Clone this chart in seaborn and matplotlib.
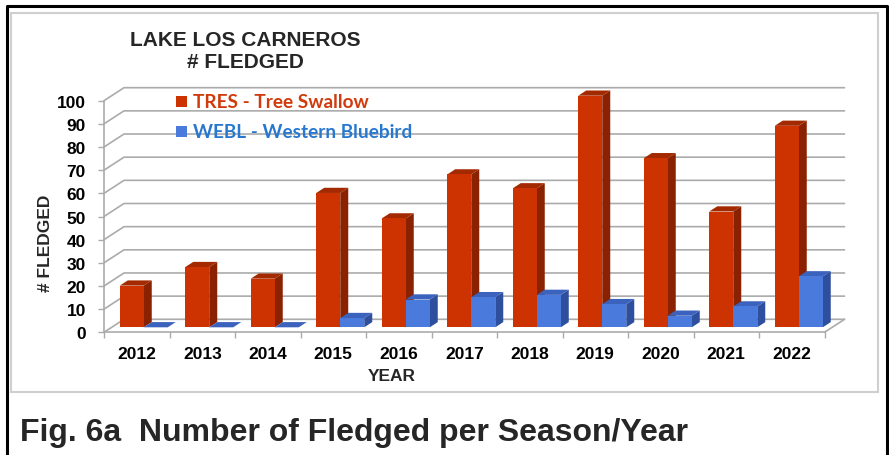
import matplotlib
matplotlib.use("Agg")
import matplotlib.pyplot as plt
from matplotlib.patches import Polygon, Rectangle
from matplotlib.lines import Line2D
import seaborn as sns
import pandas as pd

# ---------------- data ----------------
years = ["2012", "2013", "2014", "2015", "2016", "2017", "2018", "2019", "2020", "2021", "2022"]
tres = [18, 26, 21, 58, 47, 66, 60, 100, 73, 50, 87]
webl = [0, 0, 0, 4, 12, 13, 14, 10, 5, 9, 22]
series_names = ["TRES - Tree Swallow", "WEBL - Western Bluebird"]
y_ticks = list(range(0, 101, 10))

df = pd.DataFrame({
    "year": years * 2,
    "count": tres + webl,
    "species": [series_names[0]] * len(years) + [series_names[1]] * len(years),
})

W, H = 889, 456
sns.set_theme(style="white")
plt.rcParams["font.family"] = ["Liberation Sans", "DejaVu Sans"]

fig = plt.figure(figsize=(W / 100, H / 100), dpi=100)
fig.patch.set_facecolor("white")


def fx(x):
    return x / W


def fy(y):
    return 1 - y / H


# axes: x from 104px to 824.5px, y value 0 at 333.3px, 100 at 101.7px
ax_l, ax_r = 104, 824.5
ax_b, ax_t = 333.3, 101.7
ax = fig.add_axes([fx(ax_l), fy(ax_b), fx(ax_r) - fx(ax_l), fy(ax_t) - fy(ax_b)])
ax.set_facecolor("none")

front_col = {series_names[0]: "#CC3300", series_names[1]: "#4A7BDC"}
side_col = {series_names[0]: "#8A2100", series_names[1]: "#2E4F9E"}
top_col = {series_names[0]: "#A32A00", series_names[1]: "#3B62BC"}

sns.barplot(data=df, x="year", y="count", hue="species", hue_order=series_names,
            order=years, palette=front_col, width=0.733, dodge=True, saturation=1,
            linewidth=0, legend=False, ax=ax, errorbar=None)

ax.set_xlim(-0.5, 10.5)
ax.set_ylim(0, 100)

# pixel -> data unit conversion (linear axes)
p0 = ax.transData.transform((0, 0))
p1 = ax.transData.transform((1, 1))
ux = 1.0 / (p1[0] - p0[0])
uy = 1.0 / (p1[1] - p0[1])

ox, oy = 7 * ux, 5 * uy       # bars set back into the floor
dx, dy = 8 * ux, 5.2 * uy     # bar depth
gx, gy = 20 * ux, 13 * uy     # floor / wall depth

grid_c = "#ababab"
# back wall gridlines + left wall diagonals
for v in y_ticks:
    ax.add_line(Line2D([-0.5, -0.5 + gx, 10.5 + gx], [v, v + gy, v + gy],
                       color=grid_c, lw=1.2, zorder=1, clip_on=False))
# floor right edge
ax.add_line(Line2D([10.5, 10.5 + gx], [0, gy], color=grid_c, lw=1.2, zorder=1, clip_on=False))

# 3D bars built from seaborn's bar patches
patches = list(ax.patches)
n = len(years)
for i, p in enumerate(patches):
    s = series_names[0] if i < n else series_names[1]
    cat = i % n
    z = 3 + cat * 2 + (0 if i < n else 1)
    x0, w, h = p.get_x(), p.get_width(), p.get_height()
    xl = x0 + ox
    xr = x0 + w + ox
    p.set_x(xl)
    p.set_y(oy)
    p.set_zorder(z + 0.3)
    p.set_clip_on(False)
    side = Polygon([(xr, oy), (xr, h + oy), (xr + dx, h + oy + dy), (xr + dx, oy + dy)],
                   closed=True, facecolor=side_col[s], edgecolor="none", zorder=z, clip_on=False)
    top = Polygon([(xl, h + oy), (xr, h + oy), (xr + dx, h + oy + dy), (xl + dx, h + oy + dy)],
                  closed=True, facecolor=top_col[s], edgecolor="none", zorder=z + 0.1, clip_on=False)
    ax.add_patch(side)
    ax.add_patch(top)

# spines & ticks
for sp in ["top", "right"]:
    ax.spines[sp].set_visible(False)
for sp in ["left", "bottom"]:
    ax.spines[sp].set_color(grid_c)
    ax.spines[sp].set_linewidth(1.2)
    ax.spines[sp].set_zorder(1)

ax.set_yticks(y_ticks)
ax.set_yticklabels([str(v) for v in y_ticks], fontsize=12.5, fontweight="bold", color="black")
ax.tick_params(axis="y", direction="out", length=4, width=1, color=grid_c, pad=9, left=True)

ax.set_xticks(range(n))
ax.set_xticklabels(years, fontsize=12.5, fontweight="bold", color="black")
ax.set_xticks([k - 0.5 for k in range(n + 1)], minor=True)
ax.tick_params(axis="x", which="major", length=0, pad=10)
ax.tick_params(axis="x", which="minor", direction="out", length=4.5, width=1, color=grid_c, bottom=True)
ax.set_xlabel("")
ax.set_ylabel("")

# axis titles
fig.text(fx(45), fy(243), "# FLEDGED", rotation=90, ha="center", va="center",
         fontsize=12.5, fontweight="bold")
fig.text(fx(392), fy(377), "YEAR", ha="center", va="center", fontsize=12.5, fontweight="bold")

# chart title
fig.text(fx(245), fy(41), "LAKE LOS CARNEROS", ha="center", va="center", fontsize=15, fontweight="bold")
fig.text(fx(245), fy(63), "# FLEDGED", ha="center", va="center", fontsize=15, fontweight="bold")

# legend
leg_text_col = {series_names[0]: "#D03A0C", series_names[1]: "#2878D0"}
for s, yc in zip(series_names, [102.5, 132]):
    fig.patches.append(Rectangle((fx(176), fy(yc + 5.5)), fx(11), 11 / H,
                                 transform=fig.transFigure, facecolor=front_col[s],
                                 edgecolor="none", zorder=5))
    fig.text(fx(193), fy(yc), s, ha="left", va="center", fontsize=13.7, fontweight="bold",
             color=leg_text_col[s], family=["Lato", "DejaVu Sans"])

# inner chart frame
fig.patches.append(Rectangle((fx(11), fy(393)), fx(878) - fx(11), fy(14) - fy(393),
                             transform=fig.transFigure, facecolor="none",
                             edgecolor="#cfcfcf", lw=1.5, zorder=0))
# outer black frame (left, top, right)
fig.lines.append(Line2D([fx(7), fx(7), fx(887), fx(887)], [0, fy(7), fy(7), 0],
                        transform=fig.transFigure, color="black", lw=2.2))

# caption
fig.text(fx(20), fy(433), "Fig. 6a  Number of Fledged per Season/Year", ha="left", va="center",
         fontsize=23, fontweight="bold")

fig.savefig("out.png", dpi=100, facecolor="white")
